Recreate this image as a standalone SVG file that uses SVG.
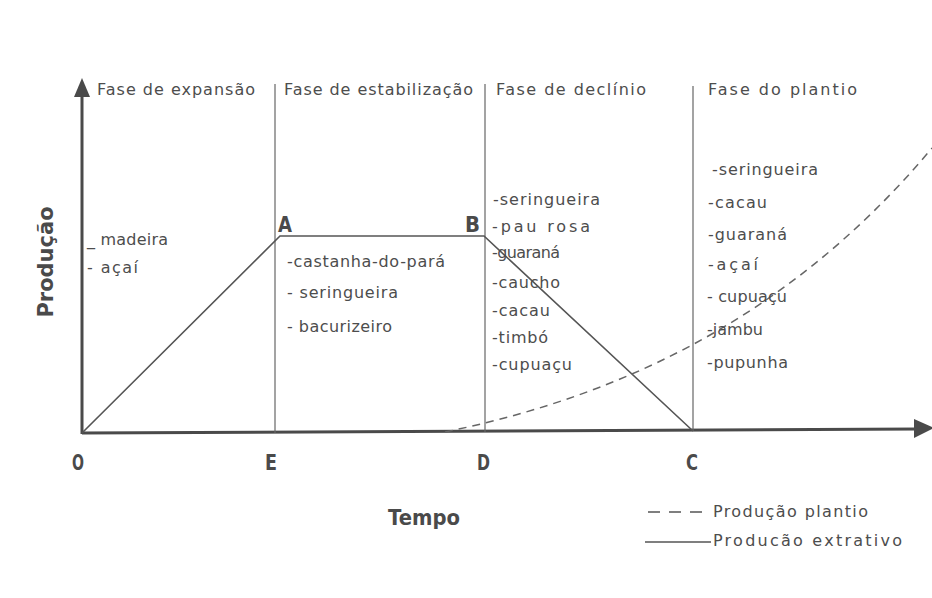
<svg xmlns="http://www.w3.org/2000/svg" width="932" height="598" viewBox="0 0 932 598">
<style>
.t{font-family:"DejaVu Sans","Liberation Sans",sans-serif;fill:#4d4d4d;font-size:16px}
.h{font-family:"DejaVu Sans","Liberation Sans",sans-serif;fill:#4d4d4d;font-size:16px}
.b{font-family:"DejaVu Sans","Liberation Sans",sans-serif;fill:#4a4a4a;font-weight:bold}
.ax{stroke:#4a4a4a;stroke-width:3;fill:none}
.ph{stroke:#666;stroke-width:1.2;fill:none}
.ex{stroke:#555;stroke-width:1.6;fill:none}
.pl{stroke:#666;stroke-width:1.5;fill:none;stroke-dasharray:8 6}
</style>
<rect width="932" height="598" fill="#fff"/>
<g id="connectors">
<line class="ax" x1="82" y1="434" x2="82" y2="92"/>
<polygon points="82,78 74,97 90,97" fill="#4a4a4a"/>
<line class="ax" x1="82" y1="433" x2="918" y2="429"/>
<polygon points="934,428 914,419 914,438" fill="#4a4a4a"/>
<line class="ph" x1="275" y1="84" x2="275" y2="433"/>
<line class="ph" x1="485" y1="84" x2="485" y2="432"/>
<line class="ph" x1="693" y1="86" x2="693" y2="431"/>
<polyline class="ex" points="82,433 280,236 484,236 693,431"/>
<path class="pl" d="M445,432 C600,400 780,330 932,148"/>
</g>
<g id="axis-labels">
<text class="b" font-size="21" transform="translate(53,262) rotate(-90)" text-anchor="middle">Produção</text>
<text class="b" x="388" y="525" font-size="21" textLength="72" lengthAdjust="spacingAndGlyphs">Tempo</text>
</g>
<g id="points">
<text class="b" x="278" y="232" font-size="21" textLength="14" lengthAdjust="spacingAndGlyphs">A</text>
<text class="b" x="465" y="232" font-size="21" textLength="15" lengthAdjust="spacingAndGlyphs">B</text>
<text class="b" x="72" y="470" font-size="21" textLength="12" lengthAdjust="spacingAndGlyphs">O</text>
<text class="b" x="265" y="470" font-size="21" textLength="12" lengthAdjust="spacingAndGlyphs">E</text>
<text class="b" x="477" y="470" font-size="21" textLength="13" lengthAdjust="spacingAndGlyphs">D</text>
<text class="b" x="686" y="470" font-size="21" textLength="12" lengthAdjust="spacingAndGlyphs">C</text>
</g>
<g id="fase-expansao">
<text class="h" x="97" y="95" textLength="158" lengthAdjust="spacing">Fase de expansão</text>
<text class="t" x="87" y="245" textLength="81" lengthAdjust="spacing">_ madeira</text>
<text class="t" x="87" y="273" textLength="51" lengthAdjust="spacing">- açaí</text>
</g>
<g id="fase-estabilizacao">
<text class="h" x="284" y="95" textLength="189" lengthAdjust="spacing">Fase de estabilização</text>
<text class="t" x="287" y="267" textLength="158" lengthAdjust="spacing">-castanha-do-pará</text>
<text class="t" x="287" y="298" textLength="111" lengthAdjust="spacing">- seringueira</text>
<text class="t" x="287" y="332" textLength="105" lengthAdjust="spacing">- bacurizeiro</text>
</g>
<g id="fase-declinio">
<text class="h" x="496" y="95" textLength="150" lengthAdjust="spacing">Fase de declínio</text>
<text class="t" x="493" y="205" textLength="107" lengthAdjust="spacing">-seringueira</text>
<text class="t" x="492" y="232" textLength="98" lengthAdjust="spacing">-pau rosa</text>
<text class="t" x="492" y="258" textLength="68" lengthAdjust="spacing">-guaraná</text>
<text class="t" x="492" y="288" textLength="68" lengthAdjust="spacing">-caucho</text>
<text class="t" x="492" y="316" textLength="58" lengthAdjust="spacing">-cacau</text>
<text class="t" x="492" y="343" textLength="56" lengthAdjust="spacing">-timbó</text>
<text class="t" x="492" y="370" textLength="80" lengthAdjust="spacing">-cupuaçu</text>
</g>
<g id="fase-plantio">
<text class="h" x="708" y="95" textLength="149" lengthAdjust="spacing">Fase do plantio</text>
<text class="t" x="712" y="175" textLength="106" lengthAdjust="spacing">-seringueira</text>
<text class="t" x="708" y="208" textLength="59" lengthAdjust="spacing">-cacau</text>
<text class="t" x="708" y="240" textLength="79" lengthAdjust="spacing">-guaraná</text>
<text class="t" x="708" y="270" textLength="50" lengthAdjust="spacing">-açaí</text>
<text class="t" x="707" y="302" textLength="80" lengthAdjust="spacing">- cupuaçu</text>
<text class="t" x="707" y="335" textLength="56" lengthAdjust="spacing">-jambu</text>
<text class="t" x="707" y="368" textLength="81" lengthAdjust="spacing">-pupunha</text>
</g>
<g id="legend">
<line stroke="#555" stroke-width="1.6" stroke-dasharray="12 9" x1="648" y1="512" x2="703" y2="512"/>
<text class="t" x="713" y="517" textLength="155" lengthAdjust="spacing">Produção plantio</text>
<line stroke="#555" stroke-width="1.6" x1="645" y1="542" x2="711" y2="542"/>
<text class="t" x="713" y="546" textLength="189" lengthAdjust="spacing">Producão extrativo</text>
</g>
</svg>
